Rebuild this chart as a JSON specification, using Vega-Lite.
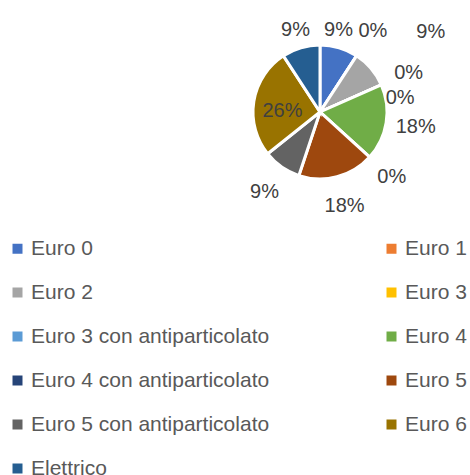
{
  "$schema": "https://vega.github.io/schema/vega-lite/v6.json",
  "width": 200,
  "height": 224,
  "autosize": {"type": "none"},
  "padding": {"left": 220, "top": 0, "right": 50, "bottom": 251},
  "background": "white",
  "config": {"view": {"stroke": null}},
  "data": {
    "values": [
      {"cat": "Euro 0", "pct": 0.09, "i": 0},
      {"cat": "Euro 1", "pct": 0.0, "i": 1},
      {"cat": "Euro 2", "pct": 0.09, "i": 2},
      {"cat": "Euro 3", "pct": 0.0, "i": 3},
      {"cat": "Euro 3 con antiparticolato", "pct": 0.0, "i": 4},
      {"cat": "Euro 4", "pct": 0.18, "i": 5},
      {"cat": "Euro 4 con antiparticolato", "pct": 0.0, "i": 6},
      {"cat": "Euro 5", "pct": 0.18, "i": 7},
      {"cat": "Euro 5 con antiparticolato", "pct": 0.09, "i": 8},
      {"cat": "Euro 6", "pct": 0.26, "i": 9},
      {"cat": "Elettrico", "pct": 0.09, "i": 10}
    ]
  },
  "encoding": {
    "theta": {"field": "pct", "type": "quantitative", "stack": true},
    "order": {"field": "i", "type": "quantitative"}
  },
  "layer": [
    {
      "mark": {"type": "arc", "outerRadius": 67, "stroke": "white", "strokeWidth": 3},
      "encoding": {
        "color": {
          "field": "cat",
          "type": "nominal",
          "sort": null,
          "scale": {
            "domain": ["Euro 0", "Euro 1", "Euro 2", "Euro 3", "Euro 3 con antiparticolato", "Euro 4", "Euro 4 con antiparticolato", "Euro 5", "Euro 5 con antiparticolato", "Euro 6", "Elettrico"],
            "range": ["#4472C4", "#ED7D31", "#A5A5A5", "#FFC000", "#5B9BD5", "#70AD47", "#264478", "#9E480E", "#636363", "#997300", "#255E91"]
          },
          "legend": {
            "title": null,
            "orient": "none",
            "direction": "horizontal",
            "legendX": -213,
            "legendY": 238,
            "padding": 0,
            "columns": 2,
            "columnPadding": 111,
            "rowPadding": 22,
            "symbolType": "square",
            "symbolSize": 100,
            "symbolStrokeWidth": 0,
            "labelFont": "Liberation Sans",
            "labelFontSize": 21,
            "labelColor": "#595959",
            "labelOffset": 3,
            "labelLimit": 400
          }
        }
      }
    },
    {
      "mark": {"type": "text", "font": "Liberation Sans", "fontSize": 20, "align": "center", "baseline": "middle"},
      "encoding": {
        "radius": {"value": 97},
        "color": {"value": "#404040"},
        "text": {"condition": {"test": "indexof(['Euro 2','Euro 6','Euro 3 con antiparticolato','Euro 0','Elettrico'], datum.cat) < 0", "field": "pct", "type": "quantitative", "format": ".0%"}, "value": ""}
      }
    },
    {
      "mark": {"type": "text", "font": "Liberation Sans", "fontSize": 20, "align": "center", "baseline": "middle"},
      "encoding": {
        "radius": {"value": 86},
        "color": {"value": "#404040"},
        "text": {"condition": {"test": "datum.cat === 'Elettrico'", "field": "pct", "type": "quantitative", "format": ".0%"}, "value": ""}
      }
    },
    {
      "mark": {"type": "text", "font": "Liberation Sans", "fontSize": 20, "align": "center", "baseline": "middle", "dx": -6},
      "encoding": {
        "radius": {"value": 86},
        "color": {"value": "#404040"},
        "text": {"condition": {"test": "datum.cat === 'Euro 0'", "field": "pct", "type": "quantitative", "format": ".0%"}, "value": ""}
      }
    },
    {
      "mark": {"type": "text", "font": "Liberation Sans", "fontSize": 20, "align": "center", "baseline": "middle", "dx": 8, "dy": 8},
      "encoding": {
        "radius": {"value": 135},
        "color": {"value": "#404040"},
        "text": {"condition": {"test": "datum.cat === 'Euro 2'", "field": "pct", "type": "quantitative", "format": ".0%"}, "value": ""}
      }
    },
    {
      "mark": {"type": "text", "font": "Liberation Sans", "fontSize": 20, "align": "center", "baseline": "middle", "dy": 5},
      "encoding": {
        "radius": {"value": 38},
        "color": {"value": "#404040"},
        "text": {"condition": {"test": "datum.cat === 'Euro 6'", "field": "pct", "type": "quantitative", "format": ".0%"}, "value": ""}
      }
    },
    {
      "mark": {"type": "text", "font": "Liberation Sans", "fontSize": 20, "align": "center", "baseline": "middle", "dx": 7, "dy": 18},
      "encoding": {
        "radius": {"value": 80},
        "color": {"value": "#404040"},
        "text": {"condition": {"test": "datum.cat === 'Euro 3 con antiparticolato'", "field": "pct", "type": "quantitative", "format": ".0%"}, "value": ""}
      }
    }
  ]
}
